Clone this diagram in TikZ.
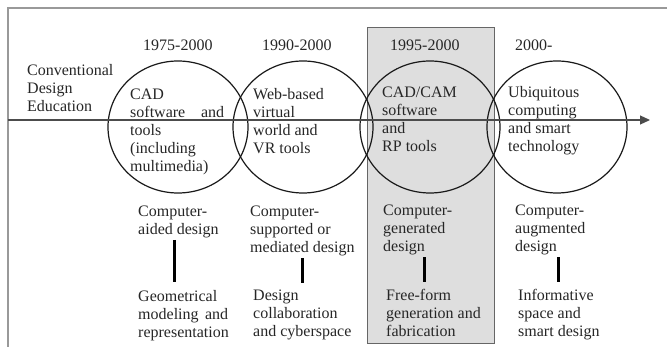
\documentclass[tikz,border=0pt]{standalone}
\usepackage{fontspec}
\setmainfont{Liberation Serif}
\usetikzlibrary{arrows.meta}
\usetikzlibrary{shapes.geometric}

\begin{document}
\begin{tikzpicture}[x=1pt,y=-1pt,
		txt/.style={anchor=north west,align=left,inner sep=0pt,text=black!85,font=\fontsize{16}{18}\selectfont},
		yr/.style={anchor=base west,inner sep=0pt,text=black!85,font=\fontsize{16}{18}\selectfont},
		era/.style={draw=black!90,line width=1.2pt,ellipse,minimum width=140pt,minimum height=132pt,inner sep=0pt},
		bar/.style={line width=3.5pt,black}]
		\useasboundingbox (0,0) rectangle (667,347);

		% frame and the highlighted period
		\draw [black!40,line width=2pt] (8,347) -- (8,8) -- (667,8);
		\filldraw [fill=black!13,draw=black!60,line width=0.8pt] (367,27) rectangle (494,343);

		\node [era] (c1) at (178,127) {};
		\node [era] (c2) at (303,127) {};
		\node [era] (c3) at (430,127) {};
		\node [era] (c4) at (557,127) {};

		\coordinate (start) at (8,120);
		\coordinate (now) at (650,120);
		\draw [black!70,line width=1.2pt,-{Triangle[length=10pt,width=9pt]}] (start) -- (now);

		\node [txt] (conv) at (27,64) {Conventional\\Design\\Education};

		\node [yr] (y1) at (143,50.5) {1975-2000};
		\node [yr] (y2) at (262,50.5) {1990-2000};
		\node [yr] (y3) at (390,50.5) {1995-2000};
		\node [yr] (y4) at (515,50.5) {2000-};

		\node [txt,text width=94pt] (t1) at (130,89) {CAD\\software\hfill and\\tools\\(including\\multimedia)};
		\node [txt] (t2) at (253,88.5) {Web-based\\virtual\\world and\\VR tools};
		\node [txt] (t3) at (382,86.5) {CAD/CAM\\software\\and\\RP tools};
		\node [txt] (t4) at (508,86.5) {Ubiquitous\\computing\\and smart\\technology};

		\node [txt] (up1) at (138,205.5) {Computer-\\aided design};
		\node [txt] (up2) at (250,205.5) {Computer-\\supported or\\mediated design};
		\node [txt] (up3) at (383,205) {Computer-\\generated\\design};
		\node [txt] (up4) at (515,205) {Computer-\\augmented\\design};

		\node [txt,text width=90pt] (low1) at (138,290) {Geometrical\\modeling\hfill and\\representation};
		\node [txt] (low2) at (253,290) {Design\\collaboration\\and cyberspace};
		\node [txt] (low3) at (386,289) {Free-form\\generation and\\fabrication};
		\node [txt] (low4) at (518,289) {Informative\\space and\\smart design};

		\draw [bar,shorten <=2pt,shorten >=8pt] ([xshift=-4pt]up1.south) -- ([xshift=-4pt]up1.south |- low1.north);
		\draw [bar,shorten <=2pt,shorten >=7pt] (up2.south) -- (up2.south |- low2.north);
		\draw [bar,shorten <=2pt,shorten >=7pt] ([xshift=7pt]up3.south) -- ([xshift=7pt]up3.south |- low3.north);
		\draw [bar,shorten <=2pt,shorten >=7pt] ([xshift=8pt]up4.south) -- ([xshift=8pt]up4.south |- low4.north);
	\end{tikzpicture}
\end{document}
